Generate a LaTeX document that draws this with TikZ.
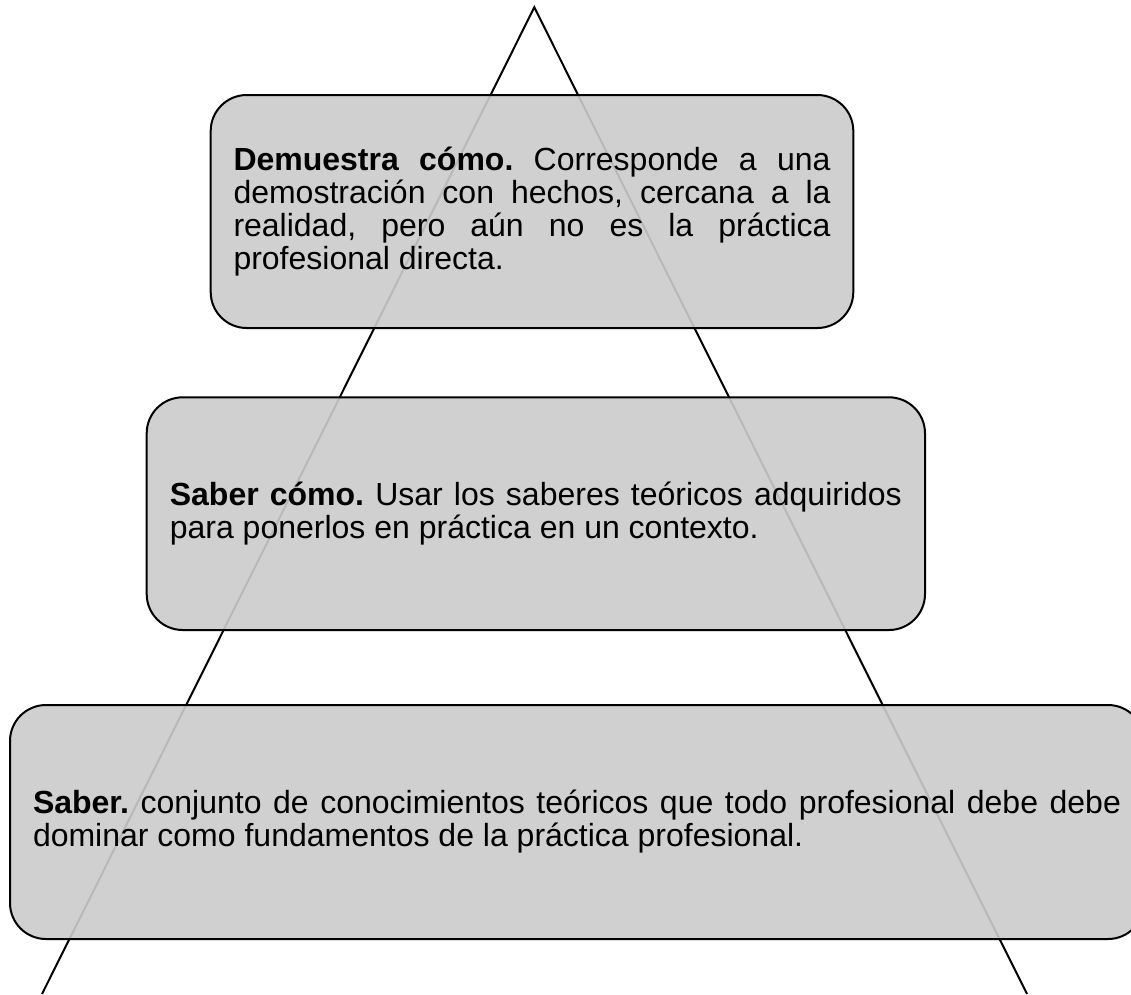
\documentclass[tikz,border=0pt]{standalone}
\usepackage{fontspec}
\setmainfont{Liberation Sans}
\definecolor{boxfill}{RGB}{203,203,203}
\begin{document}
\begin{tikzpicture}[x=1pt,y=-1pt,
  level/.style={draw=black, line width=2pt, rounded corners=36pt,
    fill=boxfill, fill opacity=0.91, text opacity=1,
    align=justify, inner xsep=0pt, inner ysep=0pt,
    font=\fontsize{32}{33}\selectfont\frenchspacing},
  side/.style={draw=black, line width=2pt}]
\useasboundingbox (0,0) rectangle (1131,994);
\coordinate (apex) at (534.3,7.3);
\coordinate (bl) at (42,994);
\coordinate (br) at (1027,994);
\draw[side] (bl) -- (apex) -- (br);
\node[level, text width=597pt, minimum width=642.6pt, minimum height=233pt]
  (top) at (532,211.5)
  {\hyphenpenalty=10000\textbf{Demuestra cómo.} Corresponde a una\linebreak
   demostración con hechos, cercana a la\linebreak
   realidad, pero aún no es la práctica\linebreak
   profesional directa.};
\node[level, text width=732pt, minimum width=778.3pt, minimum height=232.7pt]
  (mid) at (535.85,513.65)
  {\hyphenpenalty=10000\textbf{Saber cómo.} Usar los saberes teóricos adquiridos\linebreak
   para ponerlos en práctica en un contexto.};
\node[level, text width=1088pt, minimum width=1134pt, minimum height=234pt]
  (bot) at (577,822)
  {\hyphenpenalty=10000\textbf{Saber.} conjunto de conocimientos teóricos que todo profesional debe debe\linebreak
   dominar como fundamentos de la práctica profesional.};
\end{tikzpicture}
\end{document}
